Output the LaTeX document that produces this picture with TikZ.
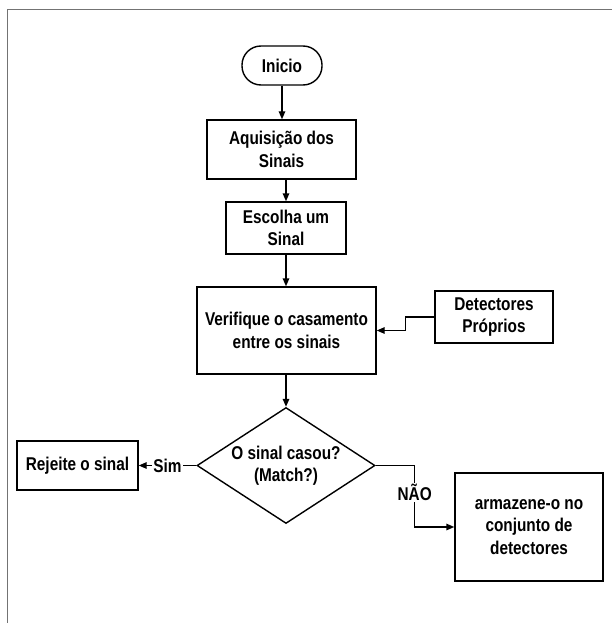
\documentclass[tikz,border=0pt]{standalone}
\usepackage{fontspec}
\setmainfont{Liberation Sans}[FakeStretch=0.83]
\usetikzlibrary{shapes.geometric,arrows.meta,calc}

\tikzset{
  base/.style={draw=black, line width=1.4pt, align=center, inner sep=0pt,
    font=\fontsize{18.5}{22.5}\selectfont\bfseries},
  procbox/.style={base, rectangle},
  termbox/.style={base, rectangle, rounded corners=19pt},
  decbox/.style={base, diamond, aspect=1.53},
  arr/.style={line width=1.4pt, -{Triangle[length=8pt,width=6.5pt]}},
  tag/.style={fill=white, inner sep=1.5pt, font=\fontsize{18.5}{20}\selectfont\bfseries},
  frame/.style={draw=black!55, line width=1.4pt}
}

\begin{document}
\begin{tikzpicture}[x=1pt, y=-1pt]
  \useasboundingbox (0,0) rectangle (612,623);

  % outer frame (top and left edges)
  \draw[frame] (612,9.5) -- (7.5,9.5) -- (7.5,623);

  % flow steps
  \node[termbox, minimum width=80pt, minimum height=39pt] (ini) at (282,65.5) {Inicio};
  \node[procbox, minimum width=149pt, minimum height=59pt] (aq) at (281.5,149.5) {Aquisição dos\\Sinais};
  \node[procbox, minimum width=120pt, minimum height=52pt] (esc) at (286,228) {Escolha um\\Sinal};
  \node[procbox, minimum width=179pt, minimum height=87pt] (ver) at (286.5,330.5) {Verifique o casamento\\entre os sinais};
  \node[procbox, minimum width=118pt, minimum height=52pt] (det) at (494,317) {Detectores\\Próprios};
  \node[decbox, minimum width=178pt, minimum height=116pt] (dec) at (286,465.5) {O sinal casou?\\(Match?)};
  \node[procbox, minimum width=121pt, minimum height=49pt] (rej) at (77.5,465.5) {Rejeite o sinal};
  \node[procbox, minimum width=148pt, minimum height=108pt] (arm) at (529,527) {armazene-o no\\conjunto de\\detectores};

  % connectors
  \draw[arr] (ini.south) -- (aq.north -| ini.south);
  \draw[arr] (aq.south -| esc.north) -- (esc.north);
  \draw[arr] (esc.south) -- (ver.north -| esc.south);
  \draw[arr] (det.west) -- ++(-29,0) |- (ver.east);
  \draw[arr] (ver.south -| dec.north) -- (dec.north);
  \draw[arr] (dec.west) -- node[tag] {Sim} (rej.east);
  \draw[arr] (dec.east) -- ++(39,0) |- node[tag, pos=0.22] {NÃO} (arm.west);
\end{tikzpicture}
\end{document}
